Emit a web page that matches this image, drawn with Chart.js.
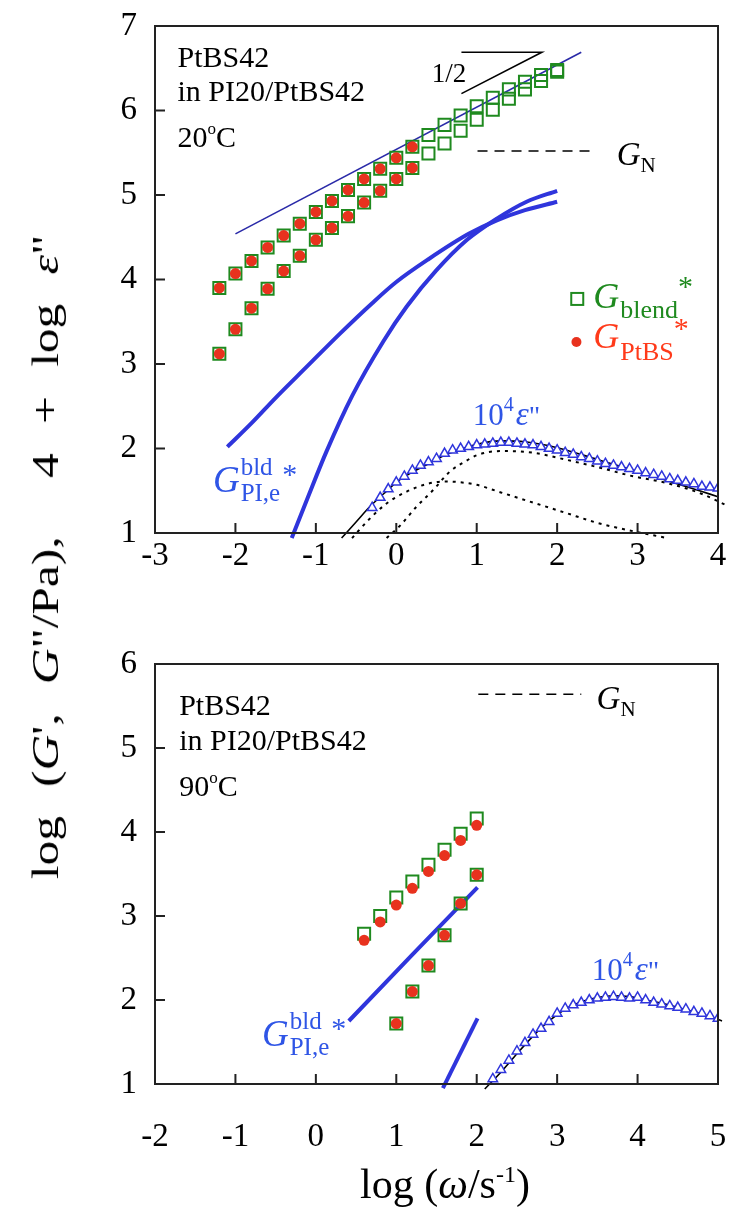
<!DOCTYPE html>
<html>
<head>
<meta charset="utf-8">
<script src="https://cdn.jsdelivr.net/npm/chart.js@4.4.1/dist/chart.umd.min.js"></script>
<style>
  body { margin: 0; background: #fff; width: 731px; height: 1219px; position: relative; overflow: hidden; font-family: 'Liberation Serif', serif; }
  .panel { position: absolute; left: 0; width: 731px; }
  #yTitle { position: absolute; left: 45px; top: 557px; transform: translate(-50%, -50%) rotate(-90deg) scaleX(1.3); white-space: pre; font-size: 38px; word-spacing: 13px; color: #000; }
  #xTitle { position: absolute; left: 445px; top: 1160px; transform: translateX(-50%); white-space: pre; font-size: 42px; color: #000; }
  sup { font-size: 24px; vertical-align: 16px; line-height: 0; }
</style>
</head>
<body>
<div class="panel" style="top:0;height:600px"><canvas id="topChart" width="731" height="600"></canvas></div>
<div class="panel" style="top:600px;height:619px"><canvas id="botChart" width="731" height="619"></canvas></div>
<div id="yTitle">log (<i>G</i>', <i>G</i>"/Pa),  4 + log <i>ε</i>"</div>
<div id="xTitle">log (<i>ω</i>/s<sup>-1</sup>)</div>
<script>
// ---- 20 C panel ----
const topW = [-2.2, -2.0, -1.8, -1.6, -1.4, -1.2, -1.0, -0.8, -0.6, -0.4, -0.2, 0.0, 0.2, 0.4, 0.6, 0.8, 1.0, 1.2, 1.4, 1.6, 1.8, 2.0];
const topBlendG2 = [3.90, 4.07, 4.22, 4.38, 4.52, 4.66, 4.80, 4.93, 5.06, 5.19, 5.31, 5.44, 5.57, 5.71, 5.83, 5.94, 6.05, 6.15, 6.25, 6.34, 6.42, 6.48];
const topBlendG1 = [3.12, 3.41, 3.66, 3.89, 4.10, 4.28, 4.47, 4.61, 4.75, 4.91, 5.05, 5.19, 5.32, 5.49, 5.61, 5.76, 5.89, 6.01, 6.14, 6.25, 6.35, 6.46];
const topPtbsW = [-2.2, -2.0, -1.8, -1.6, -1.4, -1.2, -1.0, -0.8, -0.6, -0.4, -0.2, 0.0, 0.2];
const topPtbsG2 = [3.90, 4.07, 4.22, 4.38, 4.52, 4.66, 4.80, 4.93, 5.06, 5.19, 5.31, 5.44, 5.57];
const topPtbsG1 = [3.12, 3.41, 3.66, 3.89, 4.10, 4.28, 4.47, 4.61, 4.75, 4.91, 5.05, 5.19, 5.32];

const topPiG2W = [-2.1, -1.8, -1.5, -1.1, -0.7, -0.3, 0.0, 0.4, 0.9, 1.25, 1.6, 2.0];
const topPiG2 = [2.02, 2.30, 2.60, 2.98, 3.36, 3.72, 3.97, 4.24, 4.54, 4.70, 4.82, 4.92];
const topPiG1W = [-1.3, -1.1, -0.87, -0.55, -0.16, 0.13, 0.50, 0.88, 1.25, 1.62, 2.0];
const topPiG1 = [0.94, 1.42, 1.96, 2.62, 3.27, 3.68, 4.11, 4.47, 4.72, 4.92, 5.05];

const slopeW = [-2.0, 2.3];
const slopeG = [4.54, 6.69];
const triW = [0.81, 1.81, 0.81];
const triG = [6.69, 6.69, 6.20];
const topGnW = [1.01, 2.44];
const topGn = [5.52, 5.52];

const topEpsW = [-0.3, -0.2, -0.1, 0.0, 0.1, 0.2, 0.3, 0.4, 0.5, 0.6, 0.7, 0.8, 0.9, 1.0, 1.1, 1.2, 1.3, 1.4, 1.5, 1.6, 1.7, 1.8, 1.9, 2.0, 2.1, 2.2, 2.3, 2.4, 2.5, 2.6, 2.7, 2.8, 2.9, 3.0, 3.1, 3.2, 3.3, 3.4, 3.5, 3.6, 3.7, 3.8, 3.9, 4.0];
const topEps = [1.30, 1.42, 1.52, 1.60, 1.67, 1.74, 1.80, 1.84, 1.88, 1.94, 1.98, 2.00, 2.02, 2.04, 2.05, 2.06, 2.07, 2.07, 2.06, 2.05, 2.04, 2.02, 2.00, 1.98, 1.95, 1.93, 1.90, 1.88, 1.85, 1.82, 1.80, 1.78, 1.76, 1.74, 1.71, 1.69, 1.67, 1.64, 1.62, 1.60, 1.58, 1.55, 1.54, 1.53];
const topFitW = [-0.68, -0.5, -0.33, -0.15, 0.0, 0.2, 0.4, 0.6, 0.8, 1.0, 1.3, 1.6, 2.0, 2.5, 3.0, 3.5, 3.8, 4.0];
const topFit = [0.94, 1.13, 1.31, 1.47, 1.60, 1.72, 1.82, 1.92, 1.99, 2.05, 2.09, 2.08, 2.01, 1.87, 1.73, 1.58, 1.49, 1.43];
const topSlowW = [-0.55, -0.35, -0.12, 0.13, 0.38, 0.6, 0.8, 1.0, 1.3, 1.7, 2.1, 2.5, 2.95, 3.37];
const topSlow = [0.94, 1.15, 1.35, 1.49, 1.58, 1.61, 1.60, 1.57, 1.48, 1.36, 1.24, 1.12, 1.02, 0.94];
const topFastW = [-0.12, 0.05, 0.25, 0.46, 0.67, 0.88, 1.0, 1.3, 1.7, 2.1, 2.5, 2.95, 3.37, 3.78, 4.1];
const topFast = [0.94, 1.09, 1.31, 1.51, 1.73, 1.86, 1.92, 1.97, 1.95, 1.87, 1.78, 1.67, 1.59, 1.47, 1.33];

// ---- 90 C panel ----
const botW2 = [0.6, 0.8, 1.0, 1.2, 1.4, 1.6, 1.8, 2.0];
const botBlendG2 = [2.79, 3.00, 3.22, 3.41, 3.61, 3.79, 3.98, 4.16];
const botPtbsG2 = [2.71, 2.93, 3.13, 3.33, 3.53, 3.72, 3.90, 4.08];
const botW1 = [1.0, 1.2, 1.4, 1.6, 1.8, 2.0];
const botBlendG1 = [1.72, 2.10, 2.41, 2.77, 3.15, 3.49];
const botPtbsG1 = [1.72, 2.10, 2.41, 2.77, 3.15, 3.49];
const botPiG2W = [0.41, 1.2, 2.01];
const botPiG2 = [1.75, 2.54, 3.34];
const botPiG1W = [1.58, 2.01];
const botPiG1 = [0.95, 1.78];
const botGnW = [2.02, 3.30];
const botGn = [5.64, 5.64];
const botEpsW = [2.2, 2.3, 2.4, 2.5, 2.6, 2.7, 2.8, 2.9, 3.0, 3.1, 3.2, 3.3, 3.4, 3.5, 3.6, 3.7, 3.8, 3.9, 4.0, 4.1, 4.2, 4.3, 4.4, 4.5, 4.6, 4.7, 4.8, 4.9, 5.0];
const botEps = [1.06, 1.17, 1.28, 1.39, 1.49, 1.59, 1.66, 1.74, 1.84, 1.90, 1.94, 1.97, 2.00, 2.02, 2.03, 2.04, 2.03, 2.02, 2.03, 2.00, 1.97, 1.95, 1.93, 1.91, 1.89, 1.86, 1.84, 1.81, 1.78];
const botFitW = [2.1, 2.3, 2.5, 2.7, 2.9, 3.1, 3.3, 3.5, 3.7, 3.9, 4.1, 4.3, 4.5, 4.7, 4.9, 5.05];
const botFit = [0.94, 1.14, 1.36, 1.57, 1.75, 1.89, 1.98, 2.03, 2.05, 2.04, 2.00, 1.96, 1.91, 1.86, 1.80, 1.75];

const GREEN = '#1f8a1f';
const RED = '#e8321e';
const BLUE = '#2f35dc';
const NAVY = '#2a2aa8';
const TXTBLUE = '#2f55e6';
const FONT = '"Liberation Serif", "Times New Roman", serif';

const pts = (xs, ys) => xs.map((x, i) => ({ x: x, y: ys[i] }));
const overflow = { left: 0, top: 0, right: 14, bottom: 7 };

function squares(xs, ys) {
  return { data: pts(xs, ys), pointStyle: 'rect', pointRadius: 8.5, borderColor: GREEN, backgroundColor: 'rgba(0,0,0,0)', pointBorderWidth: 2, order: 5 };
}
function dots(xs, ys) {
  return { data: pts(xs, ys), pointStyle: 'circle', pointRadius: 5.5, backgroundColor: RED, borderColor: RED, pointBorderWidth: 0, order: 1 };
}
function line(xs, ys, color, width, extra) {
  return Object.assign({ data: pts(xs, ys), showLine: true, pointRadius: 0, borderColor: color, borderWidth: width, tension: 0, clip: overflow, order: 6 }, extra || {});
}
const smooth = { cubicInterpolationMode: 'monotone' };
function tris(xs, ys) {
  return { data: pts(xs, ys), pointStyle: 'triangle', pointRadius: 5.5, borderColor: BLUE, backgroundColor: '#fff', pointBorderWidth: 1.5, order: 2 };
}

// rich text: parts drawn left to right; "same" part starts where the previous one started
function rich(ctx, x, y, parts, color) {
  let cx = x, lastStart = x, lastEnd = x;
  ctx.textAlign = 'left';
  ctx.textBaseline = 'alphabetic';
  for (const p of parts) {
    ctx.font = (p.i ? 'italic ' : '') + p.s + 'px ' + FONT;
    ctx.fillStyle = p.c || color;
    const start = p.same ? lastStart : cx;
    const w = ctx.measureText(p.t).width;
    ctx.fillText(p.t, start, y + (p.dy || 0));
    lastEnd = p.same ? Math.max(lastEnd, start + w) : start + w;
    lastStart = start;
    cx = lastEnd + (p.gap || 0);
  }
}

function framePlugin(annots) {
  return {
    id: 'frame',
    afterDraw(chart) {
      const { ctx, chartArea: a, scales } = chart;
      ctx.save();
      ctx.strokeStyle = '#222';
      ctx.lineWidth = 2;
      ctx.strokeRect(a.left, a.top, a.right - a.left, a.bottom - a.top);
      ctx.beginPath();
      for (let v = scales.x.min; v <= scales.x.max; v++) {
        const px = scales.x.getPixelForValue(v);
        ctx.moveTo(px, a.bottom);
        ctx.lineTo(px, a.bottom - 10);
      }
      for (let v = scales.y.min; v <= scales.y.max; v++) {
        const py = scales.y.getPixelForValue(v);
        ctx.moveTo(a.left, py);
        ctx.lineTo(a.left + 10, py);
      }
      ctx.stroke();
      const X = v => scales.x.getPixelForValue(v);
      const Y = v => scales.y.getPixelForValue(v);
      annots(ctx, X, Y);
      ctx.restore();
    }
  };
}

function makeChart(id, datasets, xr, yr, padTop, xHeight, xPad, annots) {
  return new Chart(document.getElementById(id), {
    type: 'scatter',
    data: { datasets: datasets },
    options: {
      responsive: false,
      animation: false,
      devicePixelRatio: 1,
      layout: { padding: { top: padTop, right: 13, left: 0, bottom: 0 } },
      plugins: { legend: { display: false }, tooltip: { enabled: false } },
      scales: {
        x: {
          type: 'linear', min: xr[0], max: xr[1],
          grid: { display: false, drawTicks: false },
          border: { display: false },
          ticks: { stepSize: 1, padding: xPad, color: '#000', font: { family: FONT, size: 33 } },
          afterFit: s => { s.height = xHeight; s.paddingLeft = 0; s.paddingRight = 0; }
        },
        y: {
          type: 'linear', min: yr[0], max: yr[1],
          grid: { display: false, drawTicks: false },
          border: { display: false },
          ticks: { stepSize: 1, padding: 18, color: '#000', font: { family: FONT, size: 33 } },
          afterFit: s => { s.width = 155; s.paddingTop = 0; s.paddingBottom = 0; }
        }
      }
    },
    plugins: [framePlugin(annots)]
  });
}

function sampleHeader(ctx, X, Y, x0, y1, y2, y3, temp) {
  rich(ctx, X(x0), Y(y1), [{ t: 'PtBS42', s: 30 }], '#000');
  rich(ctx, X(x0), Y(y2), [{ t: 'in PI20/PtBS42', s: 30 }], '#000');
  rich(ctx, X(x0), Y(y3), [{ t: temp, s: 30 }, { t: 'o', s: 17, dy: -13 }, { t: 'C', s: 30 }], '#000');
}
function gnLabel(ctx, X, Y, x, y) {
  rich(ctx, X(x), Y(y), [{ t: 'G', s: 33, i: true }, { t: 'N', s: 21, dy: 7 }], '#000');
}
function epsLabel(ctx, X, Y, x, y) {
  rich(ctx, X(x), Y(y), [{ t: '10', s: 31 }, { t: '4', s: 20, dy: -14, gap: 2 }, { t: 'ε', s: 33, i: true }, { t: '"', s: 28 }], TXTBLUE);
}
function piLabel(ctx, X, Y, x, y) {
  rich(ctx, X(x), Y(y), [{ t: 'G', s: 37, i: true, gap: 1 }, { t: 'bld', s: 25, dy: -17 }, { t: 'PI,e', s: 25, dy: 9, same: true, gap: 2 }, { t: '*', s: 30, dy: -8 }], TXTBLUE);
}

makeChart('topChart', [
  squares(topW, topBlendG2),
  squares(topW, topBlendG1),
  dots(topPtbsW, topPtbsG2),
  dots(topPtbsW, topPtbsG1),
  line(topPiG2W, topPiG2, BLUE, 4, smooth),
  line(topPiG1W, topPiG1, BLUE, 4, smooth),
  line(slopeW, slopeG, NAVY, 1.6),
  line(triW, triG, '#000', 1.6),
  line(topGnW, topGn, '#000', 1.6, { borderDash: [10, 7] }),
  tris(topEpsW, topEps),
  line(topFitW, topFit, '#000', 1.6, Object.assign({ order: 3 }, smooth)),
  line(topSlowW, topSlow, '#000', 2, Object.assign({ borderDash: [3, 5], order: 4 }, smooth)),
  line(topFastW, topFast, '#000', 2, Object.assign({ borderDash: [3, 5], order: 4 }, smooth))
], [-3, 4], [1, 7], 26, 67, 4, (ctx, X, Y) => {
  sampleHeader(ctx, X, Y, -2.72, 6.51, 6.11, 5.57, '20');
  rich(ctx, X(0.44), Y(6.34), [{ t: '1/2', s: 27 }], '#000');
  gnLabel(ctx, X, Y, 2.74, 5.355);
  // legend
  ctx.strokeStyle = GREEN; ctx.lineWidth = 2;
  ctx.strokeRect(X(2.25) - 6, Y(3.77) - 6, 12, 12);
  ctx.fillStyle = RED;
  ctx.beginPath(); ctx.arc(X(2.24), Y(3.26), 5, 0, Math.PI * 2); ctx.fill();
  rich(ctx, X(2.45), Y(3.66), [{ t: 'G', s: 36, i: true, gap: 1 }, { t: 'blend', s: 26, dy: 10 }, { t: '*', s: 30, dy: -12 }], GREEN);
  rich(ctx, X(2.45), Y(3.19), [{ t: 'G', s: 36, i: true, gap: 1 }, { t: 'PtBS', s: 26, dy: 12 }, { t: '*', s: 30, dy: -10 }], '#ff3a1a');
  epsLabel(ctx, X, Y, 0.95, 2.28);
  piLabel(ctx, X, Y, -2.28, 1.49);
});

makeChart('botChart', [
  squares(botW2, botBlendG2),
  squares(botW1, botBlendG1),
  dots(botW2, botPtbsG2),
  dots(botW1, botPtbsG1),
  line(botPiG2W, botPiG2, BLUE, 4),
  line(botPiG1W, botPiG1, BLUE, 4),
  line(botGnW, botGn, '#000', 1.6, { borderDash: [10, 7] }),
  tris(botEpsW, botEps),
  line(botFitW, botFit, '#000', 1.6, Object.assign({ order: 3 }, smooth))
], [-2, 5], [1, 6], 64, 135, 34, (ctx, X, Y) => {
  sampleHeader(ctx, X, Y, -1.70, 5.39, 4.98, 4.43, '90');
  gnLabel(ctx, X, Y, 3.49, 5.47);
  epsLabel(ctx, X, Y, 3.43, 2.24);
  piLabel(ctx, X, Y, -0.67, 1.45);
});
</script>
</body>
</html>
